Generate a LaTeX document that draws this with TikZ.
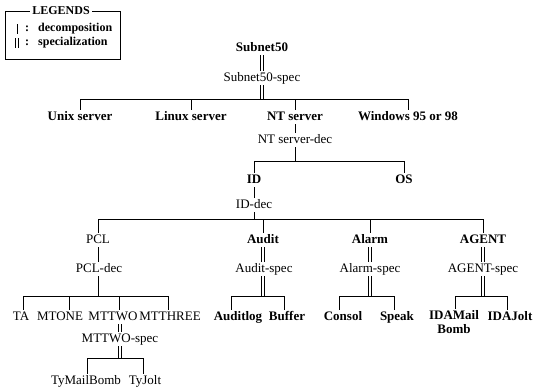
\documentclass[tikz,border=0pt]{standalone}
\usepackage{fontspec}
\setmainfont{Liberation Serif}
% a specialization link: two parallel strokes between two points
\newcommand\splink[2]{%
  \draw[declink] ([xshift=-1.5pt]#1) -- ([xshift=-1.5pt]#2);
  \draw[declink] ([xshift=1.5pt]#1) -- ([xshift=1.5pt]#2);}
\begin{document}
\begin{tikzpicture}[x=1pt,y=-1pt,
  txt/.style={inner sep=1pt, text height=9pt, text depth=3pt, font=\fontsize{13}{14}\selectfont},
  bold/.style={txt, font=\bfseries\fontsize{13}{14}\selectfont},
  legtxt/.style={inner sep=1pt, anchor=west, font=\bfseries\fontsize{12}{13}\selectfont},
  declink/.style={line width=0.8pt},
  barlink/.style={line width=0.8pt}]
\useasboundingbox (0,0) rectangle (542,389);

% legend
\draw[line width=0.8pt] (5,11) rectangle (120,59);
\node[inner sep=2pt, fill=white, font=\bfseries\fontsize{12}{13}\selectfont] (legtitle) at (61,11) {LEGENDS};
\coordinate (legd1) at (17,24);
\coordinate (legd2) at (17,34);
\coordinate (legs1) at (17,38);
\coordinate (legs2) at (17,48);
\draw[declink] (legd1) -- (legd2);
\splink{legs1}{legs2}
\node[legtxt] (legcolon1) at (24,29) {:};
\node[legtxt] (legdec) at (37,29) {decomposition};
\node[legtxt] (legcolon2) at (24,43) {:};
\node[legtxt] (legspec) at (37,43) {specialization};

% nodes
\node[bold] (s50) at (262,48) {Subnet50};
\node[txt] (s50spec) at (262,78) {Subnet50-spec};
\node[bold] (unix) at (80,117) {Unix server};
\node[bold] (linux) at (191,117) {Linux server};
\node[bold] (nt) at (295,117) {NT server};
\node[bold] (win) at (408,117) {Windows 95 or 98};
\node[txt] (ntdec) at (295,140) {NT server-dec};
\node[bold] (id) at (254,180) {ID};
\node[bold] (os) at (404,180) {OS};
\node[txt] (iddec) at (254,205) {ID-dec};
\node[txt] (pcl) at (98,240) {PCL};
\node[bold] (audit) at (263,240) {Audit};
\node[bold] (alarm) at (370,240) {Alarm};
\node[bold] (agent) at (483,240) {AGENT};
\node[txt] (pcldec) at (99,269) {PCL-dec};
\node[txt] (auditspec) at (264,269) {Audit-spec};
\node[txt] (alarmspec) at (370,269) {Alarm-spec};
\node[txt] (agentspec) at (483,269) {AGENT-spec};
\node[txt] (ta) at (21,317) {TA};
\node[txt] (mtone) at (60,317) {MTONE};
\node[txt] (mttwo) at (113,317) {MTTWO};
\node[txt] (mtthree) at (170,317) {MTTHREE};
\node[bold] (auditlog) at (238,317) {Auditlog};
\node[bold] (buffer) at (287,317) {Buffer};
\node[bold] (consol) at (343,317) {Consol};
\node[bold] (speak) at (397,317) {Speak};
\node[inner sep=1pt, anchor=north, align=center, font=\bfseries\fontsize{13}{14}\selectfont] (idamail) at (454,309) {IDAMail\\Bomb};
\node[bold] (idajolt) at (510,317) {IDAJolt};
\node[txt] (mttwospec) at (120,339) {MTTWO-spec};
\node[txt] (tymail) at (86,381) {TyMailBomb};
\node[txt] (tyjolt) at (145,381) {TyJolt};

% Subnet50
\coordinate (s50bar) at (s50spec.south |- 0,99);
\splink{s50.south}{s50spec.north}
\splink{s50spec.south}{s50bar}
\foreach \c in {unix,linux,nt,win}
  \draw[barlink] (s50bar) -| (\c.north);

% NT server
\coordinate (ntbar) at (ntdec.south |- 0,161);
\draw[declink] (nt) -- (ntdec);
\draw[declink] (ntdec.south) -- (ntbar);
\foreach \c in {id,os}
  \draw[barlink] (ntbar) -| (\c.north);

% ID
\coordinate (idbar) at (iddec.south |- 0,219);
\draw[declink] (id) -- (iddec);
\draw[declink] (iddec.south) -- (idbar);
\foreach \c in {pcl,audit,alarm,agent}
  \draw[barlink] (idbar) -| (\c.north);

% PCL
\coordinate (pclbar) at (pcl |- 0,296);
\draw[declink] (pcl) -- (pcl |- pcldec.north);
\draw[declink] (pcldec.south -| pcl) -- (pclbar);
\draw[barlink] (pclbar) -| ([xshift=2pt]ta.north);
\draw[barlink] (pclbar) -| ([xshift=9pt]mtone.north);
\draw[barlink] (pclbar) -| ([xshift=6pt]mttwo.north);
\draw[barlink] (pclbar) -| ([xshift=-2pt]mtthree.north);

% MTTWO
\coordinate (mttwotop) at (mttwo.south -| mttwospec);
\coordinate (mttwobar) at (mttwospec.south |- 0,358);
\splink{mttwotop}{mttwospec.north}
\splink{mttwospec.south}{mttwobar}
\draw[barlink] (mttwobar) -| ([xshift=1pt]tymail.north);
\draw[barlink] (mttwobar) -| ([xshift=-2pt]tyjolt.north);

% Audit
\coordinate (audittop) at (audit |- auditspec.north);
\coordinate (auditlow) at (auditspec.south -| audit);
\coordinate (auditbar) at (audit |- 0,296);
\splink{audit.south}{audittop}
\splink{auditlow}{auditbar}
\draw[barlink] (auditbar) -| ([xshift=-7pt]auditlog.north);
\draw[barlink] (auditbar) -| ([xshift=-3pt]buffer.north);

% Alarm
\coordinate (alarmbar) at (alarmspec.south |- 0,296);
\splink{alarm.south}{alarmspec.north}
\splink{alarmspec.south}{alarmbar}
\draw[barlink] (alarmbar) -| ([xshift=-4pt]consol.north);
\draw[barlink] (alarmbar) -| ([xshift=-3pt]speak.north);

% AGENT
\coordinate (agentbar) at (agentspec.south |- 0,296);
\splink{agent.south}{agentspec.north}
\splink{agentspec.south}{agentbar}
\draw[barlink] (agentbar) -| ([xshift=1pt]idamail.north);
\draw[barlink] (agentbar) -| ([xshift=-3pt]idajolt.north);
\end{tikzpicture}
\end{document}
